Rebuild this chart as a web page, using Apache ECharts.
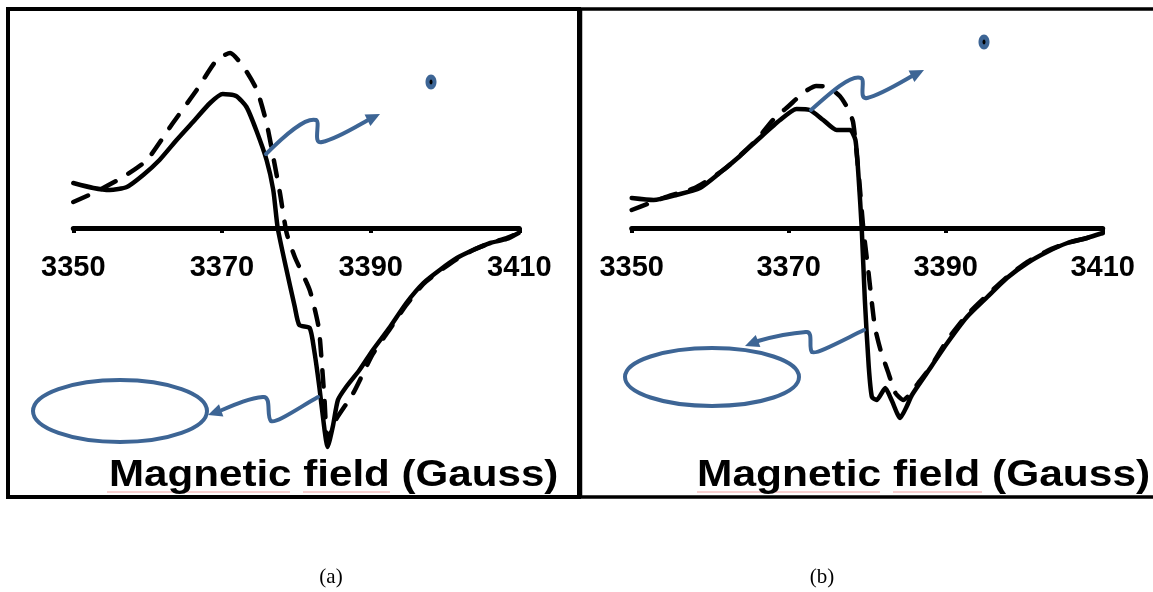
<!DOCTYPE html>
<html>
<head>
<meta charset="utf-8">
<script src="https://cdn.jsdelivr.net/npm/echarts@6/dist/echarts.min.js"></script>
<style>
html,body{margin:0;padding:0;background:#fff;}
#c{width:1153px;height:592px;}
</style>
</head>
<body>
<div id="c"></div>
<script>
// ---- Data (magnetic field in Gauss, EPR signal in arbitrary units) ----
const xTicks = [3350, 3370, 3390, 3410];

const fieldASolid = [3350, 3352.7, 3354.9, 3357.2, 3359.4, 3361.6, 3363.9, 3366.1, 3368.4, 3370.1, 3371.9, 3373.3, 3374.6, 3376.0, 3376.9, 3377.5, 3378.6, 3379.8, 3380.4, 3381.8, 3382.4, 3383.1, 3383.8, 3384.2, 3384.9, 3385.6, 3386.7, 3388.5, 3390.3, 3392.6, 3394.8, 3397.1, 3399.3, 3401.6, 3403.8, 3406.1, 3408.3, 3409.9];
const signalASolid = [45, 40, 38, 41, 53, 68, 88, 106, 125, 134, 132, 121, 98, 68, 38, 0, -39, -79, -97, -100, -122, -159, -202, -219, -199, -172, -159, -142, -122, -99, -75, -55, -42, -30, -22, -15, -11, -5];

const fieldADash = [3350, 3352.7, 3356.7, 3359.9, 3363.4, 3366.6, 3369.3, 3371.1, 3372.9, 3374.7, 3376.0, 3376.9, 3377.8, 3378.7, 3379.8, 3381.8, 3383.0, 3383.4, 3383.8, 3384.2, 3385.3, 3387.6, 3390.3, 3392.6, 3394.8, 3397.1, 3399.3, 3401.6, 3403.8, 3406.1, 3408.3, 3409.9];
const signalADash = [26, 35, 51, 68, 105, 138, 168, 175, 161, 138, 105, 71, 35, -5, -29, -62, -99, -132, -172, -212, -192, -166, -126, -101, -77, -56, -43, -31, -22, -15, -10, -5];

const fieldBSolid = [3350, 3352.8, 3355.7, 3358.7, 3361.2, 3363.8, 3366.3, 3368.9, 3371.0, 3372.7, 3374.4, 3376.1, 3377.8, 3378.5, 3378.9, 3379.3, 3379.7, 3380.2, 3380.6, 3381.2, 3382.3, 3383.1, 3384.2, 3385.0, 3385.7, 3387.6, 3390.2, 3392.7, 3395.3, 3397.8, 3400.4, 3402.9, 3405.5, 3408.0, 3410];
const signalBSolid = [30, 28, 33, 40, 55, 72, 90, 108, 119, 118, 108, 98, 98, 88, 51, 0, -72, -139, -169, -172, -160, -172, -190, -179, -167, -145, -115, -89, -69, -50, -35, -24, -15, -10, -5];

const fieldBDash = [3350, 3352, 3354, 3356, 3358, 3360, 3362, 3364, 3366, 3368, 3370, 3372, 3373.5, 3375, 3376.5, 3377.5, 3378.2, 3378.9, 3379.5, 3380.1, 3380.6, 3381.0, 3381.7, 3382.7, 3383.6, 3384.6, 3385.5, 3386.5, 3388, 3390.2, 3392.7, 3395.3, 3397.8, 3400.4, 3402.9, 3405.5, 3408, 3410];
const signalBDash = [18, 24, 30, 35, 40, 49, 60, 74, 89, 108, 122, 136, 142, 141, 132, 120, 106, 55, 0, -40, -75, -100, -122, -145, -165, -172, -166, -155, -140, -112, -87, -67, -49, -34, -23, -15, -10, -5];

const axisTitle = 'Magnetic field (Gauss)';
const captions = ['(a)', '(b)'];

// ---- helpers ----
function pairs(xs, ys) { return xs.map((x, i) => [x, ys[i]]); }
const BLUE = '#3D6595';
const Y_MIN = -250, Y_MAX = 200, GRID_TOP = 28, GRID_H = 450;

function xAxisCfg(gi) {
  return {
    type: 'value', gridIndex: gi, min: xTicks[0], max: xTicks[xTicks.length - 1], interval: 20,
    position: 'bottom',
    offset: -GRID_H * (0 - Y_MIN) / (Y_MAX - Y_MIN),
    axisLine: { show: true, onZero: false, lineStyle: { color: '#000', width: 5 } },
    axisTick: { show: true, length: 5, lineStyle: { color: '#000', width: 4 } },
    splitLine: { show: false },
    axisLabel: {
      color: '#000', fontSize: 29, fontWeight: 'bold', fontFamily: '"Liberation Sans", Arial, sans-serif',
      margin: 25, showMinLabel: true, showMaxLabel: true,
      formatter: v => String(v)
    }
  };
}
function yAxisCfg(gi) {
  return { type: 'value', gridIndex: gi, min: Y_MIN, max: Y_MAX, show: false, splitLine: { show: false } };
}
function lineSeries(gi, data, dashed) {
  return {
    type: 'line', xAxisIndex: gi, yAxisIndex: gi, data: data, showSymbol: false, symbol: 'none',
    smooth: 0.2, z: dashed ? 3 : 4, silent: true, animation: false,
    lineStyle: dashed
      ? { color: '#000', width: 4.5, type: [16, 15], cap: 'round' }
      : { color: '#000', width: 4.5, cap: 'round', join: 'round' }
  };
}
function bez(p0, c1, c2, p1) {
  return { type: 'bezierCurve', z: 100, silent: true,
    shape: { x1: p0[0], y1: p0[1], cpx1: c1[0], cpy1: c1[1], cpx2: c2[0], cpy2: c2[1], x2: p1[0], y2: p1[1] },
    style: { stroke: BLUE, lineWidth: 4, fill: null, lineCap: 'round' } };
}
function head(tip, from, len, wid) {
  const dx = tip[0] - from[0], dy = tip[1] - from[1];
  const d = Math.sqrt(dx * dx + dy * dy); const ux = dx / d, uy = dy / d;
  const bx = tip[0] - ux * len, by = tip[1] - uy * len;
  return { type: 'polygon', z: 101, silent: true,
    shape: { points: [tip, [bx - uy * wid / 2, by + ux * wid / 2], [bx + uy * wid / 2, by - ux * wid / 2]] },
    style: { fill: BLUE } };
}
function wavyArrow(start, c1, p1, c2, p2, c3, end, tip) {
  return [
    bez(start, c1[0], c1[1], p1),
    bez(p1, c2[0], c2[1], p2),
    bez(p2, c3[0], c3[1], end),
    head(tip, end, 14, 13)
  ];
}

const graphics = [];
// frames
graphics.push({ type: 'rect', z: 50, silent: true, shape: { x: 8, y: 9, width: 571, height: 488 }, style: { fill: null, stroke: '#000', lineWidth: 4 } });
graphics.push({ type: 'rect', z: 50, silent: true, shape: { x: 580.5, y: 9, width: 620, height: 488 }, style: { fill: null, stroke: '#000', lineWidth: 3.5 } });

// annotations panel (a)
graphics.push(...wavyArrow([266, 154], [[285, 135], [305, 117]], [316, 120], [[321, 122], [312, 145]], [322, 142], [[336, 139], [352, 129]], [368, 120], [380, 114]));
graphics.push(...wavyArrow([318, 397], [[300, 407], [276, 424]], [271, 421], [[266, 417], [272, 396]], [263, 397], [[250, 398], [236, 404]], [222, 410], [208, 415]));
graphics.push({ type: 'ellipse', z: 100, silent: true, shape: { cx: 120, cy: 411, rx: 87, ry: 31 }, style: { fill: null, stroke: BLUE, lineWidth: 4 } });
graphics.push({ type: 'ellipse', z: 100, silent: true, shape: { cx: 431, cy: 82, rx: 5.5, ry: 7.5 }, style: { fill: BLUE } });
graphics.push({ type: 'ellipse', z: 101, silent: true, shape: { cx: 431, cy: 82, rx: 1.5, ry: 2.5 }, style: { fill: '#000' } });

// annotations panel (b)
graphics.push(...wavyArrow([811, 110], [[830, 93], [851, 74]], [861, 78], [[866, 80], [858, 100]], [867, 98], [[880, 95], [898, 84]], [912, 76], [924, 70]));
graphics.push(...wavyArrow([864, 330], [[845, 339], [816, 355]], [812, 352], [[808, 348], [814, 331]], [806, 332], [[792, 333], [772, 337]], [758, 341], [745, 346]));
graphics.push({ type: 'ellipse', z: 100, silent: true, shape: { cx: 712, cy: 377, rx: 87, ry: 29 }, style: { fill: null, stroke: BLUE, lineWidth: 4 } });
graphics.push({ type: 'ellipse', z: 100, silent: true, shape: { cx: 984, cy: 42, rx: 5.5, ry: 7.5 }, style: { fill: BLUE } });
graphics.push({ type: 'ellipse', z: 101, silent: true, shape: { cx: 984, cy: 42, rx: 1.5, ry: 2.5 }, style: { fill: '#000' } });

// axis titles with spell-check underlines
[[109, 1.17], [697, 1.18]].forEach(([x, sx]) => {
  graphics.push({ type: 'text', z: 60, silent: true, x: x, y: 476, scaleX: sx,
    style: { text: axisTitle, font: 'bold 36px "Liberation Sans", Arial, sans-serif', fill: '#000', textAlign: 'left', textVerticalAlign: 'middle' } });
});
[[107, 290], [303, 390], [697, 880], [893, 982]].forEach(([a, b]) => {
  graphics.push({ type: 'line', z: 59, silent: true, shape: { x1: a, y1: 492, x2: b, y2: 492 }, style: { stroke: '#f0a0a0', lineWidth: 1 } });
});
// captions
[[331, captions[0]], [822, captions[1]]].forEach(([x, t]) => {
  graphics.push({ type: 'text', z: 60, silent: true, x: x, y: 577,
    style: { text: t, font: '21px "Liberation Serif", "Times New Roman", serif', fill: '#000', textAlign: 'center', textVerticalAlign: 'middle' } });
});

const chart = echarts.init(document.getElementById('c'), null, { renderer: 'canvas' });
chart.setOption({
  animation: false,
  backgroundColor: '#fff',
  grid: [
    { left: 73.3, width: 446, top: GRID_TOP, height: GRID_H },
    { left: 631.7, width: 471, top: GRID_TOP, height: GRID_H }
  ],
  xAxis: [xAxisCfg(0), xAxisCfg(1)],
  yAxis: [yAxisCfg(0), yAxisCfg(1)],
  series: [
    lineSeries(0, pairs(fieldADash, signalADash), true),
    lineSeries(0, pairs(fieldASolid, signalASolid), false),
    lineSeries(1, pairs(fieldBDash, signalBDash), true),
    lineSeries(1, pairs(fieldBSolid, signalBSolid), false)
  ],
  graphic: { elements: graphics }
});
</script>
</body>
</html>
